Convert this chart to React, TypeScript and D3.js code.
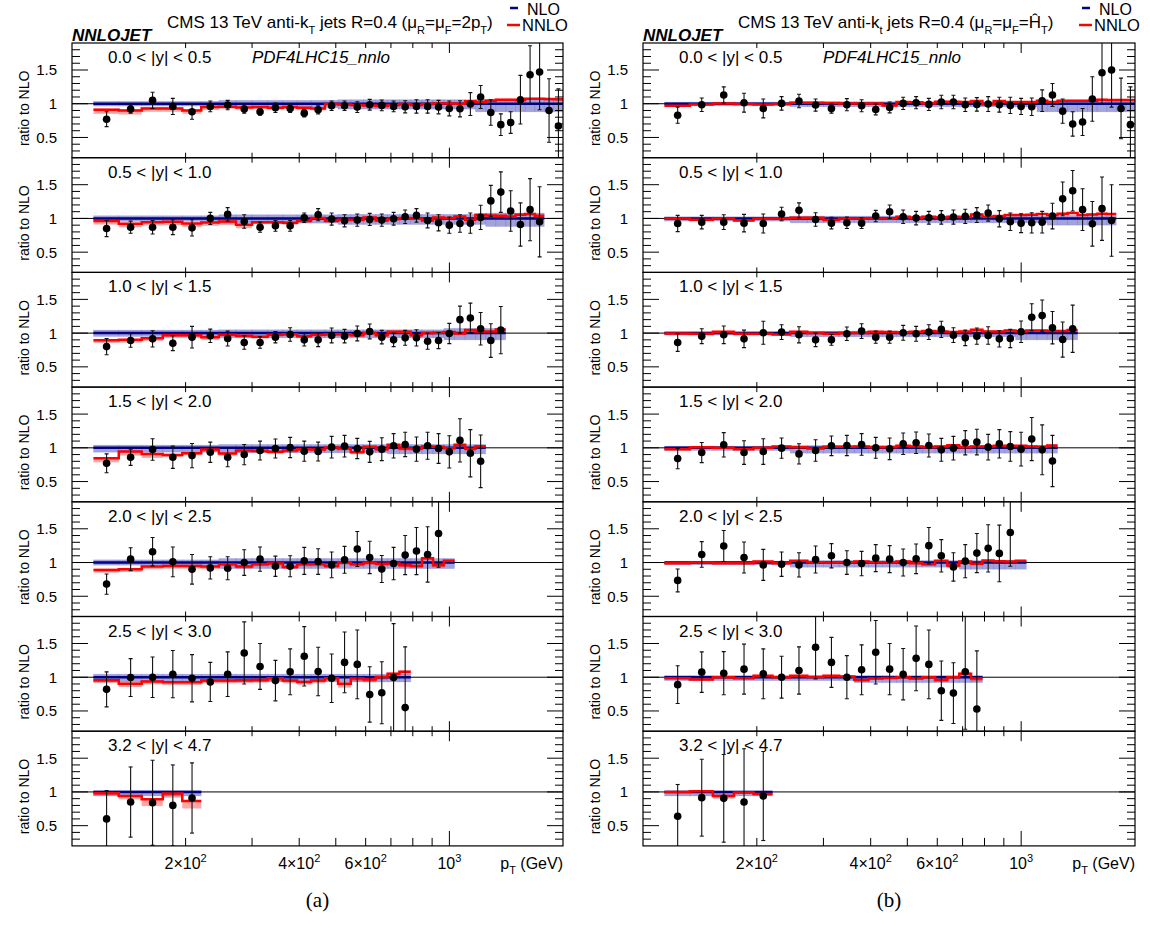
import React from "react";
import * as d3 from "d3";

// ---------------- axis / binning ----------------
const PT_EDGES = [114, 133, 153, 174, 196, 220, 245, 272, 300, 330, 362, 395, 430, 468, 507, 548, 592, 638, 686, 737, 790, 846, 905, 967, 1032, 1101, 1172, 1248, 1327, 1410, 1497, 1588, 1684, 1784, 1890, 2000];
const X_DOMAIN = [100, 2000];
const Y_DOMAIN = [0.2, 1.9];
const Y_MAJOR = [0.5, 1, 1.5];
const Y_MINOR = [0.3, 0.4, 0.6, 0.7, 0.8, 0.9, 1.1, 1.2, 1.3, 1.4, 1.6, 1.7, 1.8];
const X_MINOR = [200, 300, 400, 500, 600, 700, 800, 900];
const X_MAJOR = [1000];
const X_LABELS = [
  { v: 200, m: "2\u00d710", e: "2" },
  { v: 400, m: "4\u00d710", e: "2" },
  { v: 600, m: "6\u00d710", e: "2" },
  { v: 1000, m: "10", e: "3" },
];
const RAP_LABELS = ["0.0 < |y| < 0.5", "0.5 < |y| < 1.0", "1.0 < |y| < 1.5", "1.5 < |y| < 2.0", "2.0 < |y| < 2.5", "2.5 < |y| < 3.0", "3.2 < |y| < 4.7"];

// ---------------- (a) mu = 2 pT ----------------
const A0_DATA = [0.77, 0.92, 1.05, 0.96, 0.88, 0.96, 0.98, 0.92, 0.88, 0.94, 0.93, 0.86, 0.91, 0.97, 0.97, 0.95, 0.985, 0.975, 0.96, 0.955, 0.96, 0.96, 0.95, 0.93, 0.925, 0.995, 1.10, 0.87, 0.69, 0.72, 1.06, 1.43, 1.47, 0.90, 0.67];
const A0_ERR = [0.11, 0.06, 0.12, 0.12, 0.11, 0.08, 0.07, 0.06, 0.05, 0.07, 0.06, 0.055, 0.06, 0.07, 0.07, 0.08, 0.08, 0.08, 0.08, 0.09, 0.1, 0.1, 0.1, 0.11, 0.12, 0.17, 0.17, 0.19, 0.16, 0.16, 0.36, 0.43, 0.56, 0.47, 0.55];
const A0_NNLO = [0.91, 0.90, 0.93, 0.93, 0.90, 0.95, 0.955, 0.945, 0.95, 0.94, 0.95, 0.94, 0.93, 0.995, 0.99, 0.98, 0.975, 0.965, 0.98, 0.995, 0.98, 0.995, 1.005, 1.005, 1.0, 1.035, 1.025, 1.045, 1.06, 1.06, 1.055, 1.075, 1.075, 1.07, 1.065];
const A0_NLO_UP = [0.035, 0.035, 0.035, 0.035, 0.035, 0.035, 0.05, 0.05, 0.05, 0.05, 0.05, 0.05, 0.05, 0.05, 0.06, 0.06, 0.06, 0.06, 0.06, 0.06, 0.06, 0.06, 0.06, 0.06, 0.06, 0.06, 0.065, 0.065, 0.065, 0.065, 0.065, 0.065, 0.065, 0.065, 0.065];
const A0_NLO_DN = [0.035, 0.035, 0.035, 0.035, 0.035, 0.035, 0.06, 0.06, 0.06, 0.06, 0.06, 0.06, 0.06, 0.06, 0.08, 0.08, 0.08, 0.08, 0.08, 0.08, 0.08, 0.08, 0.08, 0.08, 0.08, 0.08, 0.12, 0.12, 0.12, 0.12, 0.12, 0.12, 0.12, 0.12, 0.12];
const A0_NNLO_UP = [0.02, 0.02, 0.02, 0.02, 0.02, 0.015, 0.015, 0.015, 0.015, 0.015, 0.015, 0.015, 0.015, 0.015, 0.015, 0.015, 0.015, 0.015, 0.015, 0.015, 0.015, 0.015, 0.015, 0.015, 0.015, 0.015, 0.015, 0.015, 0.015, 0.015, 0.015, 0.015, 0.015, 0.015, 0.015];
const A0_NNLO_DN = [0.06, 0.06, 0.05, 0.05, 0.05, 0.04, 0.03, 0.03, 0.03, 0.03, 0.03, 0.03, 0.03, 0.02, 0.02, 0.02, 0.02, 0.02, 0.02, 0.02, 0.02, 0.02, 0.02, 0.02, 0.02, 0.02, 0.02, 0.02, 0.02, 0.02, 0.02, 0.02, 0.02, 0.02, 0.02];

const A1_DATA = [0.85, 0.87, 0.87, 0.87, 0.86, 1.0, 1.06, 0.955, 0.87, 0.89, 0.89, 1.01, 1.055, 0.99, 0.965, 0.975, 0.985, 0.975, 0.995, 1.025, 1.045, 0.97, 0.935, 0.9, 0.925, 0.93, 1.015, 1.26, 1.39, 1.11, 0.91, 1.13, 0.95];
const A1_ERR = [0.12, 0.09, 0.1, 0.11, 0.12, 0.09, 0.1, 0.1, 0.075, 0.08, 0.08, 0.07, 0.09, 0.09, 0.09, 0.09, 0.09, 0.09, 0.095, 0.1, 0.1, 0.11, 0.12, 0.12, 0.13, 0.15, 0.18, 0.23, 0.3, 0.3, 0.32, 0.46, 0.52];
const A1_NNLO = [0.96, 0.92, 0.945, 0.95, 0.925, 0.94, 0.955, 0.905, 0.945, 0.945, 0.935, 0.965, 1.005, 0.965, 0.98, 0.98, 1.015, 0.97, 0.99, 1.005, 0.995, 0.97, 1.015, 1.005, 1.03, 0.98, 1.055, 1.045, 1.04, 1.03, 1.055, 1.065, 1.04];
const A1_NLO_UP = [0.04, 0.04, 0.04, 0.04, 0.04, 0.04, 0.055, 0.055, 0.055, 0.055, 0.055, 0.055, 0.055, 0.055, 0.06, 0.06, 0.06, 0.06, 0.06, 0.06, 0.06, 0.06, 0.06, 0.06, 0.06, 0.06, 0.06, 0.08, 0.08, 0.08, 0.08, 0.08, 0.08];
const A1_NLO_DN = [0.045, 0.045, 0.045, 0.045, 0.045, 0.045, 0.07, 0.07, 0.07, 0.07, 0.07, 0.07, 0.07, 0.07, 0.09, 0.09, 0.09, 0.09, 0.09, 0.09, 0.09, 0.09, 0.09, 0.09, 0.09, 0.09, 0.09, 0.12, 0.12, 0.12, 0.12, 0.12, 0.12];
const A1_NNLO_UP = [0.015, 0.015, 0.015, 0.015, 0.015, 0.015, 0.015, 0.015, 0.015, 0.015, 0.015, 0.015, 0.015, 0.015, 0.015, 0.015, 0.015, 0.015, 0.015, 0.015, 0.015, 0.015, 0.015, 0.015, 0.015, 0.015, 0.015, 0.015, 0.015, 0.015, 0.015, 0.015, 0.015];
const A1_NNLO_DN = [0.05, 0.05, 0.05, 0.05, 0.05, 0.05, 0.05, 0.05, 0.03, 0.03, 0.03, 0.03, 0.03, 0.03, 0.03, 0.03, 0.02, 0.02, 0.02, 0.02, 0.02, 0.02, 0.02, 0.02, 0.02, 0.02, 0.02, 0.02, 0.02, 0.02, 0.02, 0.02, 0.02];

const A2_DATA = [0.80, 0.89, 0.915, 0.85, 0.94, 0.96, 0.92, 0.86, 0.86, 0.94, 0.98, 0.9, 0.9, 0.965, 0.955, 0.995, 1.025, 0.94, 0.9, 0.93, 0.93, 0.88, 0.89, 0.995, 1.2, 1.225, 1.065, 0.89, 1.045];
const A2_ERR = [0.12, 0.1, 0.12, 0.11, 0.16, 0.1, 0.11, 0.1, 0.085, 0.085, 0.1, 0.09, 0.1, 0.11, 0.1, 0.11, 0.11, 0.1, 0.1, 0.11, 0.12, 0.12, 0.12, 0.15, 0.2, 0.22, 0.24, 0.25, 0.35];
const A2_NNLO = [0.895, 0.9, 0.925, 0.97, 0.97, 0.94, 0.975, 0.96, 0.945, 0.975, 0.985, 0.955, 0.975, 0.985, 0.985, 0.97, 1.0, 0.97, 1.02, 1.02, 0.97, 1.0, 1.005, 1.015, 0.995, 1.045, 1.025, 1.025, 1.055];
const A2_NLO_UP = [0.045, 0.045, 0.045, 0.045, 0.045, 0.045, 0.05, 0.05, 0.05, 0.05, 0.05, 0.05, 0.05, 0.05, 0.05, 0.05, 0.05, 0.05, 0.05, 0.05, 0.05, 0.05, 0.05, 0.07, 0.07, 0.07, 0.07, 0.07, 0.07];
const A2_NLO_DN = [0.05, 0.05, 0.05, 0.05, 0.05, 0.05, 0.07, 0.07, 0.07, 0.07, 0.07, 0.07, 0.07, 0.07, 0.07, 0.07, 0.07, 0.07, 0.07, 0.07, 0.07, 0.07, 0.07, 0.1, 0.1, 0.1, 0.1, 0.1, 0.1];
const A2_NNLO_UP = [0.015, 0.015, 0.015, 0.015, 0.015, 0.015, 0.015, 0.015, 0.015, 0.015, 0.015, 0.015, 0.015, 0.015, 0.015, 0.015, 0.015, 0.015, 0.015, 0.015, 0.015, 0.015, 0.015, 0.015, 0.015, 0.015, 0.015, 0.015, 0.015];
const A2_NNLO_DN = [0.04, 0.04, 0.04, 0.04, 0.04, 0.04, 0.025, 0.025, 0.025, 0.025, 0.025, 0.025, 0.025, 0.025, 0.025, 0.025, 0.025, 0.025, 0.025, 0.025, 0.025, 0.025, 0.025, 0.025, 0.025, 0.025, 0.025, 0.025, 0.025];

const A3_DATA = [0.77, 0.86, 0.975, 0.86, 0.885, 0.935, 0.86, 0.9, 0.96, 0.99, 1.005, 0.95, 0.945, 1.01, 1.025, 0.99, 0.94, 0.98, 1.03, 1.05, 0.98, 1.03, 0.99, 0.94, 1.11, 0.92, 0.8];
const A3_ERR = [0.14, 0.12, 0.16, 0.165, 0.18, 0.15, 0.14, 0.15, 0.14, 0.14, 0.15, 0.15, 0.14, 0.16, 0.16, 0.15, 0.155, 0.17, 0.18, 0.18, 0.18, 0.2, 0.22, 0.24, 0.32, 0.35, 0.39];
const A3_NNLO = [0.845, 0.945, 0.91, 0.895, 0.92, 0.975, 0.915, 0.96, 0.955, 0.94, 0.96, 0.98, 0.975, 1.005, 0.99, 0.935, 1.015, 0.98, 1.045, 0.99, 0.99, 1.02, 1.015, 0.995, 1.045, 0.985, 1.025];
const A3_NLO_UP = [0.04, 0.04, 0.04, 0.04, 0.04, 0.04, 0.05, 0.05, 0.05, 0.05, 0.05, 0.05, 0.05, 0.05, 0.05, 0.05, 0.05, 0.05, 0.05, 0.05, 0.05, 0.05, 0.05, 0.05, 0.05, 0.05, 0.05];
const A3_NLO_DN = [0.065, 0.065, 0.065, 0.065, 0.065, 0.065, 0.075, 0.075, 0.075, 0.075, 0.075, 0.075, 0.075, 0.075, 0.075, 0.075, 0.075, 0.075, 0.09, 0.09, 0.09, 0.09, 0.09, 0.09, 0.09, 0.09, 0.09];
const A3_NNLO_UP = [0.015, 0.015, 0.015, 0.015, 0.015, 0.015, 0.015, 0.015, 0.015, 0.015, 0.015, 0.015, 0.015, 0.015, 0.015, 0.015, 0.015, 0.015, 0.015, 0.015, 0.015, 0.015, 0.015, 0.015, 0.015, 0.015, 0.015];
const A3_NNLO_DN = [0.06, 0.06, 0.06, 0.03, 0.03, 0.03, 0.03, 0.03, 0.03, 0.03, 0.03, 0.03, 0.03, 0.03, 0.03, 0.03, 0.03, 0.03, 0.03, 0.03, 0.03, 0.03, 0.03, 0.03, 0.03, 0.03, 0.03];

const A4_DATA = [0.68, 1.05, 1.16, 1.01, 0.9, 0.92, 0.915, 1.0, 1.05, 0.945, 0.945, 1.025, 1.015, 0.965, 1.04, 1.2, 1.075, 0.905, 0.985, 1.11, 1.17, 1.12, 1.43];
const A4_ERR = [0.15, 0.17, 0.21, 0.22, 0.22, 0.165, 0.17, 0.19, 0.18, 0.15, 0.155, 0.2, 0.19, 0.19, 0.2, 0.26, 0.24, 0.2, 0.24, 0.29, 0.35, 0.41, 0.5];
const A4_NNLO = [0.89, 0.9, 0.94, 0.95, 0.95, 0.94, 0.975, 0.94, 0.975, 0.985, 0.935, 0.975, 0.975, 0.95, 1.0, 0.975, 0.995, 0.98, 0.985, 0.96, 0.95, 1.065, 0.96, 1.025];
const A4_NLO_UP = [0.04, 0.04, 0.04, 0.04, 0.04, 0.04, 0.06, 0.06, 0.06, 0.06, 0.06, 0.06, 0.06, 0.06, 0.06, 0.06, 0.06, 0.06, 0.06, 0.06, 0.06, 0.06, 0.06, 0.06];
const A4_NLO_DN = [0.04, 0.04, 0.04, 0.04, 0.04, 0.04, 0.09, 0.09, 0.09, 0.09, 0.09, 0.09, 0.09, 0.09, 0.09, 0.09, 0.09, 0.09, 0.09, 0.09, 0.09, 0.09, 0.09, 0.09];
const A4_NNLO_UP = [0.02, 0.02, 0.02, 0.02, 0.02, 0.02, 0.02, 0.02, 0.02, 0.02, 0.02, 0.02, 0.02, 0.02, 0.02, 0.02, 0.02, 0.02, 0.02, 0.02, 0.02, 0.02, 0.02, 0.02];
const A4_NNLO_DN = [0.04, 0.04, 0.04, 0.04, 0.04, 0.04, 0.03, 0.03, 0.03, 0.03, 0.03, 0.03, 0.03, 0.03, 0.03, 0.03, 0.03, 0.03, 0.03, 0.03, 0.03, 0.03, 0.03, 0.03];

const A5_DATA = [0.82, 0.995, 1.0, 1.045, 0.985, 0.93, 1.045, 1.36, 1.16, 0.95, 1.08, 1.31, 1.085, 0.985, 1.22, 1.19, 0.745, 0.77, 0.995, 0.55];
const A5_ERR = [0.26, 0.28, 0.3, 0.35, 0.35, 0.29, 0.33, 0.46, 0.34, 0.3, 0.34, 0.44, 0.36, 0.36, 0.45, 0.51, 0.41, 0.46, 0.8, 0.9];
const A5_NNLO = [0.955, 0.905, 0.935, 0.925, 0.925, 0.95, 0.95, 0.955, 0.96, 0.985, 0.95, 0.93, 0.95, 0.985, 0.905, 0.98, 0.965, 1.005, 1.05, 1.08];
const A5_NLO_UP = [0.045, 0.045, 0.045, 0.045, 0.045, 0.045, 0.045, 0.045, 0.045, 0.045, 0.045, 0.045, 0.045, 0.045, 0.045, 0.045, 0.045, 0.045, 0.045, 0.045];
const A5_NLO_DN = [0.07, 0.07, 0.07, 0.07, 0.07, 0.07, 0.07, 0.07, 0.07, 0.07, 0.07, 0.07, 0.07, 0.07, 0.07, 0.07, 0.07, 0.07, 0.07, 0.07];
const A5_NNLO_UP = [0.02, 0.02, 0.02, 0.02, 0.02, 0.02, 0.02, 0.02, 0.02, 0.02, 0.02, 0.02, 0.02, 0.02, 0.02, 0.02, 0.02, 0.02, 0.02, 0.02];
const A5_NNLO_DN = [0.04, 0.05, 0.04, 0.04, 0.04, 0.04, 0.04, 0.04, 0.04, 0.04, 0.04, 0.04, 0.04, 0.04, 0.06, 0.04, 0.04, 0.04, 0.04, 0.04];

const A6_DATA = [0.6, 0.85, 0.84, 0.8, 0.91];
const A6_ERR = [0.42, 0.52, 0.63, 0.6, 0.52];
const A6_NNLO = [0.98, 0.94, 0.89, 0.975, 0.865];
const A6_NLO_UP = [0.02, 0.02, 0.02, 0.02, 0.02];
const A6_NLO_DN = [0.06, 0.06, 0.06, 0.06, 0.06];
const A6_NNLO_UP = [0.03, 0.01, 0.01, 0.01, 0.0];
const A6_NNLO_DN = [0.03, 0.05, 0.1, 0.06, 0.11];

// ---------------- (b) mu = H_T ----------------
const B0_DATA = [0.83, 0.985, 1.13, 1.015, 0.93, 1.005, 1.04, 0.98, 0.93, 0.985, 0.97, 0.915, 0.945, 1.005, 1.015, 0.99, 1.025, 1.025, 0.985, 0.99, 0.995, 0.985, 0.975, 0.96, 0.955, 1.045, 1.13, 0.89, 0.7, 0.73, 1.07, 1.46, 1.5, 0.93, 0.69];
const B0_ERR = [0.12, 0.1, 0.12, 0.14, 0.14, 0.1, 0.1, 0.09, 0.07, 0.09, 0.09, 0.08, 0.08, 0.09, 0.09, 0.09, 0.1, 0.1, 0.1, 0.1, 0.11, 0.11, 0.12, 0.12, 0.13, 0.16, 0.17, 0.18, 0.18, 0.2, 0.33, 0.46, 0.55, 0.45, 0.56];
const B0_NNLO = [0.97, 0.99, 1.005, 0.995, 0.99, 0.995, 1.015, 1.015, 1.01, 1.005, 1.005, 1.005, 0.975, 1.025, 1.02, 1.005, 1.03, 1.03, 1.025, 1.04, 0.99, 1.04, 1.025, 1.025, 1.025, 1.045, 1.025, 1.045, 1.045, 1.045, 1.045, 1.06, 1.055, 1.055, 1.055];
const B0_NLO_UP = [0.025, 0.025, 0.025, 0.025, 0.025, 0.025, 0.03, 0.03, 0.03, 0.03, 0.03, 0.03, 0.03, 0.03, 0.03, 0.03, 0.03, 0.03, 0.03, 0.03, 0.03, 0.03, 0.03, 0.03, 0.03, 0.04, 0.04, 0.04, 0.04, 0.04, 0.04, 0.04, 0.04, 0.04, 0.04];
const B0_NLO_DN = [0.03, 0.03, 0.03, 0.03, 0.03, 0.03, 0.045, 0.045, 0.045, 0.045, 0.045, 0.045, 0.045, 0.045, 0.045, 0.045, 0.045, 0.045, 0.045, 0.045, 0.045, 0.045, 0.045, 0.045, 0.045, 0.12, 0.12, 0.12, 0.12, 0.12, 0.12, 0.12, 0.12, 0.12, 0.12];
const B0_NNLO_UP = [0.015, 0.015, 0.015, 0.015, 0.015, 0.015, 0.015, 0.015, 0.015, 0.015, 0.015, 0.015, 0.015, 0.015, 0.015, 0.015, 0.015, 0.015, 0.015, 0.015, 0.015, 0.015, 0.015, 0.015, 0.015, 0.015, 0.015, 0.015, 0.015, 0.015, 0.015, 0.015, 0.015, 0.015, 0.015];
const B0_NNLO_DN = [0.015, 0.015, 0.015, 0.015, 0.015, 0.015, 0.015, 0.015, 0.015, 0.015, 0.015, 0.015, 0.015, 0.015, 0.015, 0.015, 0.015, 0.015, 0.015, 0.015, 0.015, 0.015, 0.015, 0.015, 0.015, 0.015, 0.015, 0.015, 0.015, 0.015, 0.015, 0.015, 0.015, 0.015, 0.015];

const B1_DATA = [0.925, 0.945, 0.945, 0.93, 0.925, 1.065, 1.12, 0.985, 0.93, 0.935, 0.93, 1.035, 1.1, 1.025, 1.005, 1.01, 1.015, 1.02, 1.03, 1.05, 1.08, 0.995, 0.95, 0.93, 0.935, 0.945, 1.035, 1.29, 1.41, 1.13, 0.92, 1.145, 0.97];
const B1_ERR = [0.12, 0.1, 0.11, 0.13, 0.14, 0.1, 0.11, 0.1, 0.085, 0.085, 0.08, 0.085, 0.1, 0.1, 0.1, 0.095, 0.1, 0.105, 0.105, 0.11, 0.12, 0.12, 0.13, 0.14, 0.15, 0.16, 0.19, 0.25, 0.3, 0.31, 0.33, 0.47, 0.53];
const B1_NNLO = [1.0, 0.98, 1.0, 0.97, 0.995, 1.0, 1.01, 1.01, 0.975, 1.0, 1.0, 1.0, 1.0, 1.025, 1.01, 1.025, 1.015, 1.025, 1.02, 1.06, 1.025, 1.035, 1.05, 1.05, 1.055, 1.065, 1.05, 1.07, 1.08, 1.05, 1.06, 1.07, 1.065];
const B1_NLO_UP = [0.025, 0.025, 0.025, 0.025, 0.025, 0.025, 0.035, 0.035, 0.035, 0.035, 0.035, 0.035, 0.035, 0.035, 0.035, 0.035, 0.035, 0.035, 0.035, 0.035, 0.035, 0.035, 0.035, 0.035, 0.035, 0.035, 0.045, 0.045, 0.045, 0.045, 0.045, 0.045, 0.045];
const B1_NLO_DN = [0.04, 0.04, 0.04, 0.04, 0.04, 0.04, 0.065, 0.065, 0.065, 0.065, 0.065, 0.065, 0.065, 0.065, 0.065, 0.065, 0.065, 0.065, 0.065, 0.065, 0.065, 0.065, 0.065, 0.065, 0.065, 0.065, 0.1, 0.1, 0.1, 0.1, 0.1, 0.1, 0.1];
const B1_NNLO_UP = [0.015, 0.015, 0.015, 0.015, 0.015, 0.015, 0.015, 0.015, 0.015, 0.015, 0.015, 0.015, 0.015, 0.015, 0.015, 0.015, 0.015, 0.015, 0.015, 0.015, 0.015, 0.015, 0.015, 0.015, 0.015, 0.015, 0.015, 0.015, 0.015, 0.015, 0.015, 0.015, 0.015];
const B1_NNLO_DN = [0.015, 0.015, 0.015, 0.015, 0.015, 0.015, 0.015, 0.015, 0.015, 0.015, 0.015, 0.015, 0.015, 0.015, 0.015, 0.015, 0.015, 0.015, 0.015, 0.015, 0.015, 0.015, 0.015, 0.015, 0.015, 0.015, 0.015, 0.015, 0.015, 0.015, 0.015, 0.015, 0.015];

const B2_DATA = [0.86, 0.955, 0.975, 0.915, 1.005, 1.015, 0.975, 0.9, 0.9, 0.99, 1.03, 0.94, 0.94, 1.005, 0.99, 1.015, 1.055, 0.97, 0.93, 0.955, 0.965, 0.915, 0.92, 1.02, 1.235, 1.26, 1.08, 0.905, 1.065];
const B2_ERR = [0.13, 0.11, 0.13, 0.13, 0.17, 0.11, 0.12, 0.1, 0.08, 0.1, 0.11, 0.09, 0.09, 0.11, 0.11, 0.11, 0.12, 0.11, 0.115, 0.12, 0.13, 0.12, 0.135, 0.16, 0.2, 0.23, 0.24, 0.26, 0.35];
const B2_NNLO = [0.995, 0.99, 1.02, 0.99, 0.99, 0.98, 1.02, 1.0, 0.99, 1.0, 1.0, 1.02, 1.015, 1.01, 1.02, 1.03, 1.025, 1.015, 1.025, 1.05, 1.025, 1.025, 1.04, 1.025, 1.04, 1.04, 1.03, 1.03, 1.045];
const B2_NLO_UP = [0.02, 0.02, 0.02, 0.02, 0.02, 0.02, 0.03, 0.03, 0.03, 0.03, 0.03, 0.03, 0.03, 0.03, 0.03, 0.03, 0.03, 0.03, 0.03, 0.03, 0.03, 0.03, 0.03, 0.045, 0.045, 0.045, 0.045, 0.045, 0.045];
const B2_NLO_DN = [0.03, 0.03, 0.03, 0.03, 0.03, 0.03, 0.055, 0.055, 0.055, 0.055, 0.055, 0.055, 0.055, 0.055, 0.055, 0.055, 0.055, 0.055, 0.055, 0.055, 0.055, 0.055, 0.055, 0.1, 0.1, 0.1, 0.1, 0.1, 0.1];
const B2_NNLO_UP = [0.015, 0.015, 0.015, 0.015, 0.015, 0.015, 0.015, 0.015, 0.015, 0.015, 0.015, 0.015, 0.015, 0.015, 0.015, 0.015, 0.015, 0.015, 0.015, 0.015, 0.015, 0.015, 0.015, 0.015, 0.015, 0.015, 0.015, 0.015, 0.015];
const B2_NNLO_DN = [0.015, 0.015, 0.015, 0.015, 0.015, 0.015, 0.015, 0.015, 0.015, 0.015, 0.015, 0.015, 0.015, 0.015, 0.015, 0.015, 0.015, 0.015, 0.015, 0.015, 0.015, 0.015, 0.015, 0.015, 0.015, 0.015, 0.015, 0.015, 0.015];

const B3_DATA = [0.84, 0.93, 1.045, 0.93, 0.945, 0.995, 0.91, 0.96, 1.03, 1.035, 1.05, 1.0, 0.985, 1.06, 1.075, 1.035, 0.97, 0.995, 1.075, 1.085, 1.01, 1.06, 1.02, 0.98, 1.13, 0.97, 0.805];
const B3_ERR = [0.15, 0.15, 0.18, 0.175, 0.19, 0.15, 0.15, 0.16, 0.145, 0.15, 0.16, 0.155, 0.16, 0.16, 0.16, 0.17, 0.17, 0.175, 0.18, 0.19, 0.19, 0.21, 0.22, 0.25, 0.32, 0.37, 0.38];
const B3_NNLO = [0.98, 1.01, 1.0, 0.98, 1.0, 1.02, 1.01, 0.99, 1.015, 1.015, 1.02, 1.01, 1.01, 1.03, 1.02, 1.01, 1.02, 1.04, 1.01, 1.02, 1.02, 1.03, 1.03, 1.03, 1.02, 1.015, 1.035];
const B3_NLO_UP = [0.025, 0.025, 0.025, 0.025, 0.025, 0.025, 0.035, 0.035, 0.035, 0.035, 0.035, 0.035, 0.035, 0.035, 0.035, 0.035, 0.035, 0.035, 0.035, 0.035, 0.035, 0.035, 0.035, 0.035, 0.035, 0.035, 0.035];
const B3_NLO_DN = [0.04, 0.04, 0.04, 0.04, 0.04, 0.04, 0.08, 0.08, 0.08, 0.08, 0.08, 0.08, 0.08, 0.08, 0.08, 0.08, 0.08, 0.08, 0.08, 0.08, 0.08, 0.08, 0.08, 0.08, 0.08, 0.08, 0.08];
const B3_NNLO_UP = [0.015, 0.015, 0.015, 0.015, 0.015, 0.015, 0.015, 0.015, 0.015, 0.015, 0.015, 0.015, 0.015, 0.015, 0.015, 0.015, 0.015, 0.015, 0.015, 0.015, 0.015, 0.015, 0.015, 0.015, 0.015, 0.015, 0.015];
const B3_NNLO_DN = [0.015, 0.015, 0.015, 0.015, 0.015, 0.015, 0.015, 0.015, 0.015, 0.015, 0.015, 0.015, 0.015, 0.015, 0.015, 0.015, 0.015, 0.015, 0.015, 0.015, 0.015, 0.015, 0.015, 0.015, 0.015, 0.015, 0.015];

const B4_DATA = [0.735, 1.12, 1.245, 1.075, 0.965, 0.975, 0.965, 1.045, 1.1, 1.0, 0.985, 1.065, 1.05, 1.0, 1.055, 1.25, 1.1, 0.935, 1.02, 1.14, 1.21, 1.135, 1.445];
const B4_ERR = [0.17, 0.19, 0.23, 0.23, 0.23, 0.18, 0.18, 0.2, 0.18, 0.175, 0.18, 0.2, 0.2, 0.2, 0.22, 0.27, 0.24, 0.21, 0.245, 0.29, 0.35, 0.42, 0.5];
const B4_NNLO = [0.99, 1.0, 0.99, 0.99, 1.015, 0.99, 1.025, 1.005, 1.0, 1.005, 1.015, 1.005, 1.005, 1.015, 0.99, 0.975, 1.025, 0.955, 1.015, 0.98, 1.03, 1.02, 1.015, 1.025];
const B4_NLO_UP = [0.02, 0.02, 0.02, 0.02, 0.02, 0.02, 0.03, 0.03, 0.03, 0.03, 0.03, 0.03, 0.03, 0.03, 0.03, 0.03, 0.03, 0.03, 0.03, 0.03, 0.03, 0.03, 0.03, 0.03];
const B4_NLO_DN = [0.035, 0.035, 0.035, 0.035, 0.035, 0.035, 0.07, 0.07, 0.07, 0.07, 0.07, 0.07, 0.07, 0.07, 0.07, 0.07, 0.07, 0.07, 0.1, 0.1, 0.1, 0.1, 0.1, 0.1];
const B4_NNLO_UP = [0.015, 0.015, 0.015, 0.015, 0.015, 0.015, 0.015, 0.015, 0.015, 0.015, 0.015, 0.015, 0.015, 0.015, 0.015, 0.015, 0.015, 0.015, 0.015, 0.015, 0.015, 0.015, 0.015, 0.015];
const B4_NNLO_DN = [0.015, 0.015, 0.015, 0.015, 0.015, 0.015, 0.015, 0.015, 0.015, 0.015, 0.015, 0.015, 0.015, 0.015, 0.015, 0.02, 0.015, 0.03, 0.015, 0.02, 0.015, 0.015, 0.015, 0.015];

const B5_DATA = [0.89, 1.075, 1.06, 1.12, 1.05, 1.0, 1.1, 1.445, 1.22, 1.0, 1.11, 1.37, 1.12, 1.045, 1.28, 1.19, 0.8, 0.765, 1.08, 0.53];
const B5_ERR = [0.28, 0.3, 0.32, 0.37, 0.37, 0.31, 0.35, 0.47, 0.37, 0.32, 0.37, 0.47, 0.38, 0.38, 0.48, 0.51, 0.44, 0.45, 0.85, 0.86];
const B5_NNLO = [0.985, 0.965, 1.0, 0.985, 1.02, 1.0, 1.02, 1.005, 1.02, 1.01, 0.96, 0.98, 0.99, 1.0, 0.98, 1.0, 0.96, 1.0, 1.05, 0.98];
const B5_NLO_UP = [0.025, 0.025, 0.025, 0.025, 0.025, 0.025, 0.025, 0.025, 0.025, 0.025, 0.025, 0.025, 0.025, 0.025, 0.025, 0.025, 0.025, 0.025, 0.025, 0.025];
const B5_NLO_DN = [0.05, 0.05, 0.05, 0.05, 0.05, 0.05, 0.05, 0.05, 0.05, 0.05, 0.08, 0.08, 0.08, 0.08, 0.08, 0.08, 0.08, 0.08, 0.08, 0.08];
const B5_NNLO_UP = [0.015, 0.015, 0.015, 0.015, 0.015, 0.015, 0.015, 0.015, 0.015, 0.015, 0.015, 0.015, 0.015, 0.015, 0.015, 0.015, 0.02, 0.015, 0.03, 0.015];
const B5_NNLO_DN = [0.015, 0.015, 0.015, 0.015, 0.015, 0.015, 0.015, 0.015, 0.015, 0.015, 0.03, 0.015, 0.015, 0.015, 0.015, 0.015, 0.03, 0.015, 0.04, 0.04];

const B6_DATA = [0.64, 0.915, 0.905, 0.85, 0.94];
const B6_ERR = [0.47, 0.57, 0.65, 0.79, 0.66];
const B6_NNLO = [1.0, 1.01, 0.94, 0.99, 0.97];
const B6_NLO_UP = [0.015, 0.015, 0.015, 0.015, 0.015];
const B6_NLO_DN = [0.06, 0.06, 0.06, 0.06, 0.06];
const B6_NNLO_UP = [0.01, 0.015, 0.02, 0.01, 0.01];
const B6_NNLO_DN = [0.01, 0.015, 0.04, 0.01, 0.02];

type PanelData = { data: number[]; err: number[]; nnlo: number[]; nloUp: number[]; nloDn: number[]; nnloUp: number[]; nnloDn: number[] };
const mk = (data: number[], err: number[], nnlo: number[], nloUp: number[], nloDn: number[], nnloUp: number[], nnloDn: number[]): PanelData => ({ data, err, nnlo, nloUp, nloDn, nnloUp, nnloDn });

const PANELS_A: PanelData[] = [
  mk(A0_DATA, A0_ERR, A0_NNLO, A0_NLO_UP, A0_NLO_DN, A0_NNLO_UP, A0_NNLO_DN),
  mk(A1_DATA, A1_ERR, A1_NNLO, A1_NLO_UP, A1_NLO_DN, A1_NNLO_UP, A1_NNLO_DN),
  mk(A2_DATA, A2_ERR, A2_NNLO, A2_NLO_UP, A2_NLO_DN, A2_NNLO_UP, A2_NNLO_DN),
  mk(A3_DATA, A3_ERR, A3_NNLO, A3_NLO_UP, A3_NLO_DN, A3_NNLO_UP, A3_NNLO_DN),
  mk(A4_DATA, A4_ERR, A4_NNLO, A4_NLO_UP, A4_NLO_DN, A4_NNLO_UP, A4_NNLO_DN),
  mk(A5_DATA, A5_ERR, A5_NNLO, A5_NLO_UP, A5_NLO_DN, A5_NNLO_UP, A5_NNLO_DN),
  mk(A6_DATA, A6_ERR, A6_NNLO, A6_NLO_UP, A6_NLO_DN, A6_NNLO_UP, A6_NNLO_DN),
];
const PANELS_B: PanelData[] = [
  mk(B0_DATA, B0_ERR, B0_NNLO, B0_NLO_UP, B0_NLO_DN, B0_NNLO_UP, B0_NNLO_DN),
  mk(B1_DATA, B1_ERR, B1_NNLO, B1_NLO_UP, B1_NLO_DN, B1_NNLO_UP, B1_NNLO_DN),
  mk(B2_DATA, B2_ERR, B2_NNLO, B2_NLO_UP, B2_NLO_DN, B2_NNLO_UP, B2_NNLO_DN),
  mk(B3_DATA, B3_ERR, B3_NNLO, B3_NLO_UP, B3_NLO_DN, B3_NNLO_UP, B3_NNLO_DN),
  mk(B4_DATA, B4_ERR, B4_NNLO, B4_NLO_UP, B4_NLO_DN, B4_NNLO_UP, B4_NNLO_DN),
  mk(B5_DATA, B5_ERR, B5_NNLO, B5_NLO_UP, B5_NLO_DN, B5_NNLO_UP, B5_NNLO_DN),
  mk(B6_DATA, B6_ERR, B6_NNLO, B6_NLO_UP, B6_NLO_DN, B6_NNLO_UP, B6_NNLO_DN),
];

// ---------------- layout ----------------
const W = 1150;
const H = 943;
const TOP = 43;
const PH = 114.7;
const FONT = "'Liberation Sans', Arial, Helvetica, sans-serif";
const NLO_BAND = "rgba(51,51,178,0.45)";
const NNLO_BAND = "rgba(255,0,0,0.35)";
const NLO_LINE = "#000080";
const NNLO_LINE = "#ff0000";

function Plot({ id, left, right, panels, scaleSub, caption }: { id: string; left: number; right: number; panels: PanelData[]; scaleSub: "2p" | "HT"; caption: string }) {
  const x = d3.scaleLog().domain(X_DOMAIN).range([left, right]);
  const step = d3.line<[number, number]>().curve(d3.curveStepAfter);
  const sub = (t: string) => (
    <tspan dy={6} fontSize={11}>{t}</tspan>
  );
  return (
    <g>
      {/* header */}
      <text x={left} y={41} fontFamily={FONT} fontSize={17} fontWeight="bold" fontStyle="italic">NNLOJET</text>
      <text x={left + 95} y={28} fontFamily={FONT} fontSize={17}>
        <tspan>CMS 13 TeV anti-k</tspan>
        {sub(scaleSub === "2p" ? "T" : "t")}
        <tspan dy={-6}> jets R=0.4 (μ</tspan>
        {sub("R")}
        <tspan dy={-6}>=μ</tspan>
        {sub("F")}
        <tspan dy={-6}>{scaleSub === "2p" ? "=2p" : "=Ĥ"}</tspan>
        {sub("T")}
        <tspan dy={-6}>)</tspan>
      </text>
      <line x1={right - 53} x2={right - 45} y1={8} y2={8} stroke={NLO_LINE} strokeWidth={2.5} />
      <text x={right - 36} y={15} fontFamily={FONT} fontSize={16}>NLO</text>
      <line x1={right - 56} x2={right - 43} y1={25} y2={25} stroke={NNLO_LINE} strokeWidth={2.5} />
      <text x={right - 41} y={31} fontFamily={FONT} fontSize={16.5}>NNLO</text>

      {panels.map((p, i) => {
        const top = TOP + i * PH;
        const bottom = top + PH;
        const y = d3.scaleLinear().domain(Y_DOMAIN).range([bottom, top]);
        const nTh = p.nnlo.length;
        const clipId = `clip-${id}-${i}`;
        const stepPts: [number, number][] = p.nnlo.map((v, b) => [x(PT_EDGES[b]), y(v)] as [number, number]);
        stepPts.push([x(PT_EDGES[nTh]), y(p.nnlo[nTh - 1])]);
        const isLast = i === panels.length - 1;
        return (
          <g key={i}>
            <defs>
              <clipPath id={clipId}>
                <rect x={left} y={top} width={right - left} height={PH} />
              </clipPath>
            </defs>
            <g clipPath={`url(#${clipId})`}>
              {p.nloUp.map((u, b) => (
                <rect key={"nb" + b} x={x(PT_EDGES[b])} width={x(PT_EDGES[b + 1]) - x(PT_EDGES[b])} y={y(1 + u)} height={y(1 - p.nloDn[b]) - y(1 + u)} fill={NLO_BAND} stroke="rgba(51,51,178,0.15)" strokeWidth={0.8} />
              ))}
              {p.nnlo.map((v, b) => (
                <rect key={"rb" + b} x={x(PT_EDGES[b])} width={x(PT_EDGES[b + 1]) - x(PT_EDGES[b])} y={y(v + p.nnloUp[b])} height={Math.max(0.5, y(v - p.nnloDn[b]) - y(v + p.nnloUp[b]))} fill={NNLO_BAND} />
              ))}
              <line x1={left} x2={right} y1={y(1)} y2={y(1)} stroke="#000" strokeWidth={1} />
              <line x1={x(PT_EDGES[0])} x2={x(PT_EDGES[nTh])} y1={y(1)} y2={y(1)} stroke={NLO_LINE} strokeWidth={2.5} />
              <path d={step(stepPts) || ""} fill="none" stroke={NNLO_LINE} strokeWidth={2.5} />
              {p.data.map((v, b) => {
                const cx = x((PT_EDGES[b] + PT_EDGES[b + 1]) / 2);
                const e = p.err[b];
                return (
                  <g key={"d" + b}>
                    <line x1={cx} x2={cx} y1={y(v - e)} y2={y(v + e)} stroke="#111" strokeWidth={1.1} />
                    <line x1={cx - 2} x2={cx + 2} y1={y(v - e)} y2={y(v - e)} stroke="#111" strokeWidth={1.1} />
                    <line x1={cx - 2} x2={cx + 2} y1={y(v + e)} y2={y(v + e)} stroke="#111" strokeWidth={1.1} />
                    <circle cx={cx} cy={y(v)} r={3.8} fill="#000" />
                  </g>
                );
              })}
            </g>
            {/* frame */}
            <rect x={left} y={top} width={right - left} height={PH} fill="none" stroke="#000" strokeWidth={1.2} />
            {/* y ticks */}
            {Y_MAJOR.map((v) => (
              <g key={"ym" + v}>
                <line x1={left} x2={left + 16} y1={y(v)} y2={y(v)} stroke="#000" strokeWidth={1} />
                <line x1={right} x2={right - 16} y1={y(v)} y2={y(v)} stroke="#000" strokeWidth={1} />
                <text x={left - 15} y={y(v) + 5.5} textAnchor="end" fontFamily={FONT} fontSize={15}>{String(v)}</text>
              </g>
            ))}
            {Y_MINOR.map((v) => (
              <g key={"yn" + v}>
                <line x1={left} x2={left + 8} y1={y(v)} y2={y(v)} stroke="#000" strokeWidth={1} />
                <line x1={right} x2={right - 8} y1={y(v)} y2={y(v)} stroke="#000" strokeWidth={1} />
              </g>
            ))}
            {/* x ticks */}
            {X_MINOR.map((v) => (
              <g key={"xn" + v}>
                <line x1={x(v)} x2={x(v)} y1={bottom} y2={bottom - (isLast ? 8 : 5)} stroke="#000" strokeWidth={1} />
                <line x1={x(v)} x2={x(v)} y1={top} y2={top + 5} stroke="#000" strokeWidth={1} />
              </g>
            ))}
            {X_MAJOR.map((v) => (
              <g key={"xm" + v}>
                <line x1={x(v)} x2={x(v)} y1={bottom} y2={bottom - (isLast ? 15 : 10)} stroke="#000" strokeWidth={1} />
                <line x1={x(v)} x2={x(v)} y1={top} y2={top + 10} stroke="#000" strokeWidth={1} />
              </g>
            ))}
            {/* labels */}
            <text x={left + 36} y={top + 20} fontFamily={FONT} fontSize={17}>{RAP_LABELS[i]}</text>
            {i === 0 && (
              <text x={left + 180} y={top + 20} fontFamily={FONT} fontSize={17} fontStyle="italic">PDF4LHC15_nnlo</text>
            )}
            <text transform={`translate(${left - 43},${top + PH / 2 + 8}) rotate(-90)`} textAnchor="middle" fontFamily={FONT} fontSize={14}>ratio to NLO</text>
          </g>
        );
      })}

      {/* x tick labels */}
      {X_LABELS.map((l) => (
        <text key={"xl" + l.v} x={x(l.v)} y={TOP + 7 * PH + 23} textAnchor="middle" fontFamily={FONT} fontSize={16}>
          {l.m}
          <tspan dy={-7} fontSize={11}>{l.e}</tspan>
        </text>
      ))}
      <text x={right} y={TOP + 7 * PH + 23} textAnchor="end" fontFamily={FONT} fontSize={16}>
        p<tspan dy={5} fontSize={11}>T</tspan>
        <tspan dy={-5}> (GeV)</tspan>
      </text>
      <text x={(left + right) / 2} y={907} textAnchor="middle" fontFamily="'Liberation Serif', 'DejaVu Serif', serif" fontSize={21}>{caption}</text>
    </g>
  );
}

export default function App() {
  return (
    <svg width={W} height={H} style={{ position: "absolute", left: 0, top: 0, background: "#fff" }}>
      <rect x={0} y={0} width={W} height={H} fill="#fff" />
      <Plot id="a" left={72} right={563} panels={PANELS_A} scaleSub="2p" caption="(a)" />
      <Plot id="b" left={643} right={1135} panels={PANELS_B} scaleSub="HT" caption="(b)" />
    </svg>
  );
}
